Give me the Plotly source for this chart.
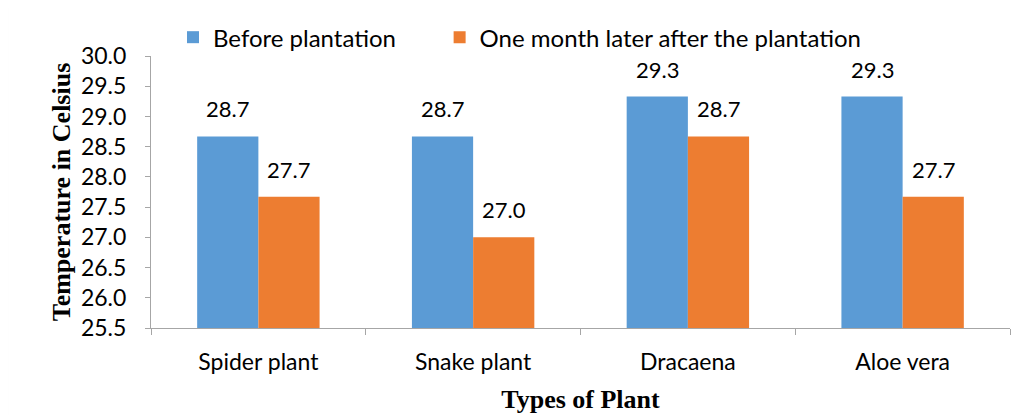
import plotly.graph_objects as go

categories = ["Spider plant", "Snake plant", "Dracaena", "Aloe vera"]
before = [28.67, 28.67, 29.33, 29.33]
after = [27.67, 27.0, 28.67, 27.67]
series_names = ["Before plantation", "One month later after the plantation"]
y_ticks = [25.5, 26.0, 26.5, 27.0, 27.5, 28.0, 28.5, 29.0, 29.5, 30.0]

BLUE = "#5B9BD5"
ORANGE = "#ED7D31"
FONT = "Lato, 'Open Sans', sans-serif"
SERIF = "'Liberation Serif', 'Times New Roman', serif"

fig = go.Figure()
for name, vals, col, lg in [(series_names[0], before, BLUE, "legend"),
                            (series_names[1], after, ORANGE, "legend2")]:
    fig.add_trace(go.Bar(
        x=categories, y=vals, name=name, marker=dict(color=col, line=dict(width=0)),
        legend=lg, showlegend=True,
    ))

# value labels
for vals, shift in [(before, -30.5), (after, 30.5)]:
    for c, v in zip(categories, vals):
        fig.add_annotation(x=c, y=v, text=f"{v:.1f}", showarrow=False,
                           xshift=shift, yshift=12, yanchor="bottom",
                           font=dict(family=FONT, size=22, color="#000"))

legend_common = dict(orientation="h", y=0.985, xanchor="left", yanchor="bottom",
                     font=dict(family=FONT, size=24, color="#000"), itemwidth=30,
                     bgcolor="rgba(0,0,0,0)", visible=True)
fig.update_layout(
    width=1035, height=415,
    margin=dict(l=143, r=33, t=48, b=95, autoexpand=False),
    paper_bgcolor="white", plot_bgcolor="white",
    barmode="group", bargap=0.43, bargroupgap=0,
    showlegend=True,
    font=dict(family=FONT, size=23, color="#000"),
    legend=dict(x=0.0256, **legend_common),
    legend2=dict(x=0.336, **legend_common),
)
fig.update_yaxes(
    range=[25.5, 30.0], tickvals=y_ticks, ticktext=[f"{v:.1f}" for v in y_ticks],
    showgrid=False, zeroline=False, showline=True, linecolor="#A6A6A6", linewidth=1,
    ticks="outside", ticklen=5, tickcolor="#A6A6A6", automargin=False,
    ticklabelstandoff=14,
    tickfont=dict(family=FONT, size=23, color="#000"),
    title=dict(text="<b>Temperature in Celsius</b>", standoff=2,
               font=dict(family=SERIF, size=26, color="#000")),
)
fig.update_xaxes(
    showgrid=False, showline=True, linecolor="#A6A6A6", linewidth=1,
    ticks="outside", ticklen=6, tickcolor="#A6A6A6", tickson="boundaries",
    automargin=False, ticklabelstandoff=13,
    tickfont=dict(family=FONT, size=23, color="#000"),
    title=dict(text="<b>Types of Plant</b>", standoff=16,
               font=dict(family=SERIF, size=26, color="#000")),
)
fig.add_shape(type="rect", xref="paper", yref="paper",
              x0=-0.167, x1=1.05, y0=-0.33, y1=1.3,
              line=dict(color="#D9D9D9", width=1), fillcolor="rgba(0,0,0,0)", layer="below")

fig.write_html("out.html")
